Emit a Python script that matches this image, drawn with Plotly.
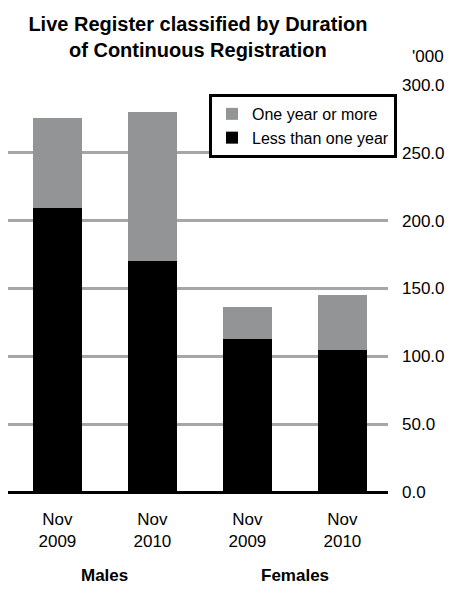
import plotly.graph_objects as go

categories = ["Nov<br>2009", "Nov<br>2010", "Nov<br>2009", "Nov<br>2010"]
groups = ["Males", "Females"]
less_than_one_year = [209, 170, 113, 105]
one_year_or_more = [67, 110, 23.5, 40]
y_ticks = [0, 50, 100, 150, 200, 250, 300]

x = list(range(len(categories)))
FONT = "Liberation Sans, Arial, sans-serif"

fig = go.Figure()
fig.add_trace(go.Bar(x=x, y=less_than_one_year, name="Less than one year",
                     marker=dict(color="#000000", line=dict(width=0)), width=0.52))
fig.add_trace(go.Bar(x=x, y=one_year_or_more, name="One year or more",
                     marker=dict(color="#939496", line=dict(width=0)), width=0.52))

fig.update_layout(
    width=450, height=581,
    margin=dict(l=0, r=70, t=77, b=97),
    barmode="stack",
    plot_bgcolor="white", paper_bgcolor="white",
    font=dict(family=FONT, size=17, color="#000000"),
    title=dict(text="<b>Live Register classified by Duration<br>of Continuous Registration</b>",
               x=0.422, xanchor="center", y=0.96, yanchor="top",
               font=dict(family=FONT, size=20, color="#000000")),
    legend=dict(x=0.529, xanchor="left", y=0.978, yanchor="top",
                bordercolor="#000000", borderwidth=3, bgcolor="white",
                traceorder="reversed", font=dict(size=16),
                tracegroupgap=0, itemwidth=30),
    xaxis=dict(tickmode="array", tickvals=x, ticktext=categories,
               range=[-0.52, 3.48], showgrid=False, zeroline=False,
               showline=False, ticks="", tickfont=dict(size=17),
               ticklabelstandoff=15, automargin=False),
    yaxis=dict(side="right", range=[0, 300], tickvals=y_ticks, tickformat=".1f",
               showgrid=True, gridcolor="#a6a6a6", gridwidth=3,
               zeroline=True, zerolinecolor="#000000", zerolinewidth=3,
               showline=False, ticks="", ticklabelstandoff=13,
               tickfont=dict(size=17), automargin=False),
)

fig.add_annotation(text="'000", xref="paper", yref="paper", x=1.058, y=1.069,
                   xanchor="left", yanchor="middle", showarrow=False,
                   font=dict(size=17))
for gi, g in enumerate(groups):
    fig.add_annotation(text="<b>" + g + "</b>", xref="x", yref="paper",
                       x=gi * 2 + 0.5, y=-0.232, xanchor="center", yanchor="bottom",
                       showarrow=False, borderpad=0, font=dict(size=17))

fig.write_html("out.html")
